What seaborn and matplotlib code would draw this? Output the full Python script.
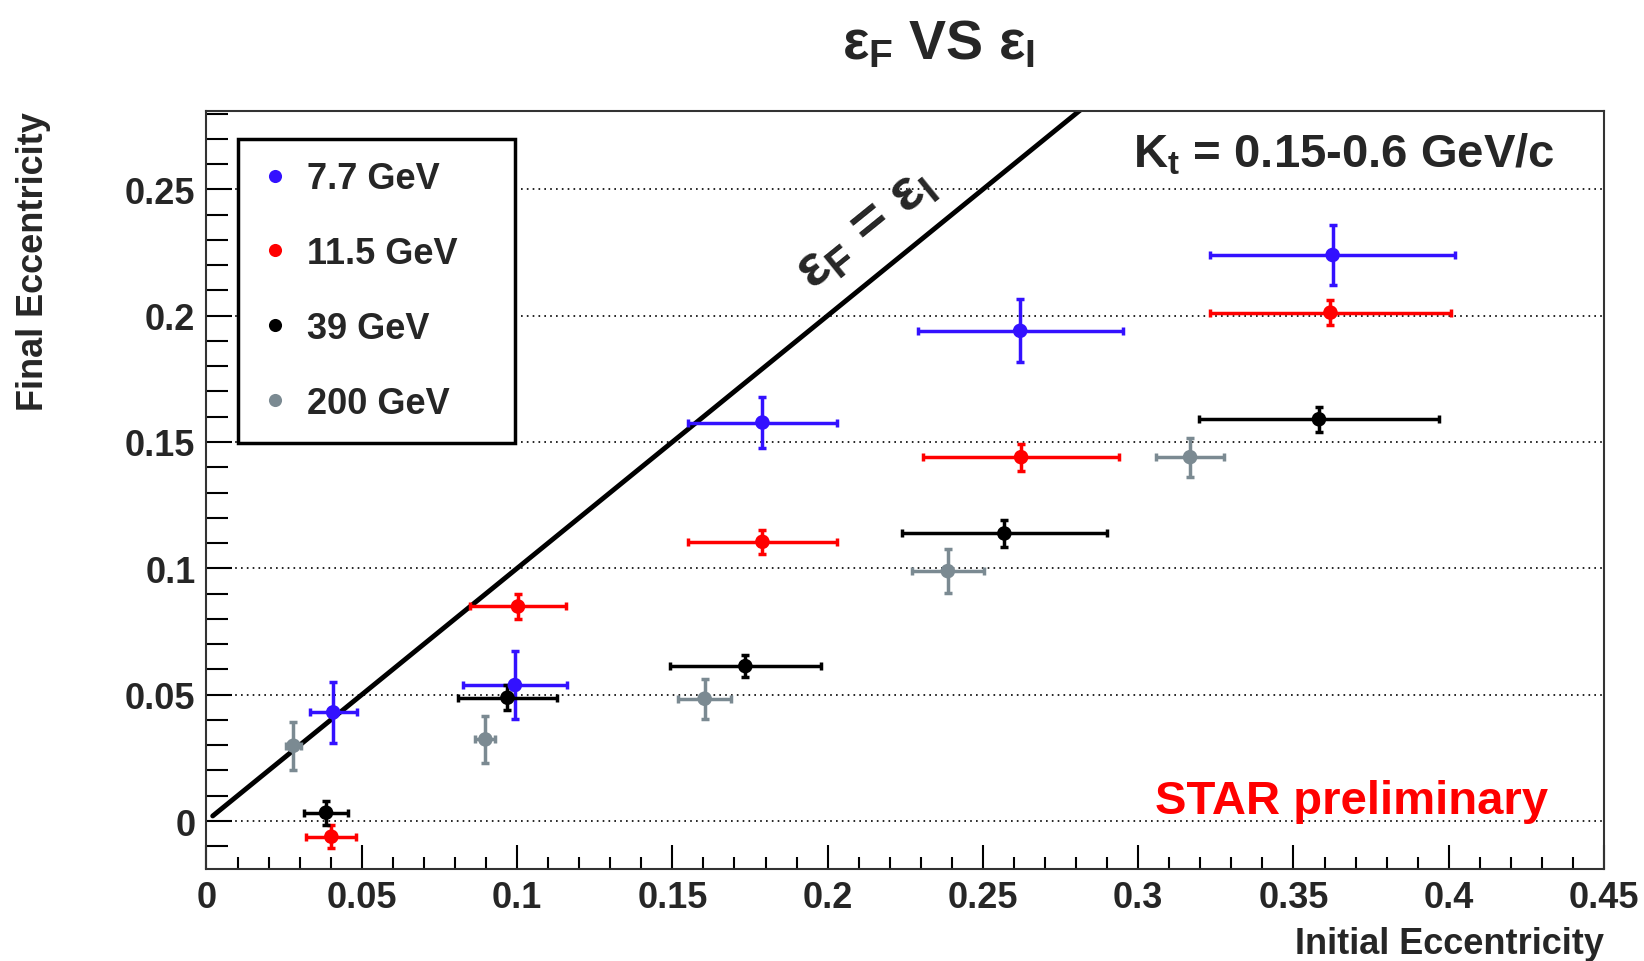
import matplotlib
matplotlib.use("Agg")
import matplotlib.pyplot as plt
import matplotlib.ticker as ticker
import numpy as np
import pandas as pd
import seaborn as sns

# values
energies = ["7.7 GeV", "11.5 GeV", "39 GeV", "200 GeV"]
colors = ["#3311ff", "#ff0000", "#000000", "#7b8a92"]

x_77 = [0.0408, 0.0993, 0.179, 0.262, 0.3626]
y_77 = [0.043, 0.0538, 0.1577, 0.194, 0.224]
xe_77 = [0.0076, 0.0167, 0.024, 0.033, 0.0395]
ye_77 = [0.012, 0.0135, 0.0102, 0.0125, 0.012]

x_115 = [0.0402, 0.1003, 0.179, 0.2623, 0.3619]
y_115 = [-0.0062, 0.0849, 0.1105, 0.144, 0.2012]
xe_115 = [0.008, 0.0154, 0.024, 0.0316, 0.0387]
ye_115 = [0.0045, 0.005, 0.0048, 0.0054, 0.005]

x_39 = [0.0385, 0.0969, 0.1735, 0.2569, 0.3582]
y_39 = [0.0033, 0.0488, 0.0613, 0.1138, 0.159]
xe_39 = [0.0071, 0.016, 0.0243, 0.033, 0.0387]
ye_39 = [0.0048, 0.005, 0.0045, 0.0055, 0.005]

x_200 = [0.028, 0.0898, 0.1604, 0.2387, 0.3167]
y_200 = [0.0298, 0.0323, 0.0484, 0.0989, 0.144]
xe_200 = [0.0025, 0.0032, 0.0086, 0.0115, 0.011]
ye_200 = [0.0095, 0.0093, 0.0079, 0.0087, 0.0077]

# eps_F = eps_I reference line ends
diag = [0.002, 0.2815]

sns.set_theme(style="white")
plt.rcParams["font.family"] = ["Liberation Sans", "DejaVu Sans"]
plt.rcParams["font.weight"] = "bold"
plt.rcParams["mathtext.fontset"] = "custom"
plt.rcParams["mathtext.rm"] = "Liberation Sans:bold"
plt.rcParams["mathtext.it"] = "Liberation Sans:bold"
plt.rcParams["mathtext.bf"] = "Liberation Sans:bold"

series = [
    (x_77, y_77, xe_77, ye_77),
    (x_115, y_115, xe_115, ye_115),
    (x_39, y_39, xe_39, ye_39),
    (x_200, y_200, xe_200, ye_200),
]
frames = []
for name, (xs, ys, xe, ye) in zip(energies, series):
    frames.append(pd.DataFrame({"x": xs, "y": ys, "xerr": xe, "yerr": ye, "energy": name}))
df = pd.concat(frames, ignore_index=True)
palette = dict(zip(energies, colors))

fig = plt.figure(figsize=(16.44, 9.62), dpi=100)
ax = fig.add_axes([0.1256, 0.0956, 0.8501, 0.788])

ax.plot(diag, diag, color="black", linewidth=3.5, zorder=2)

for name in energies:
    d = df[df.energy == name]
    ax.errorbar(
        d.x, d.y, xerr=d.xerr, yerr=d.yerr, fmt="none",
        ecolor=palette[name], elinewidth=2.5, capsize=3, capthick=2.5, zorder=3,
    )

sns.scatterplot(
    data=df, x="x", y="y", hue="energy", palette=palette, hue_order=energies,
    s=110, edgecolor="none", ax=ax, zorder=4,
)

ax.set_xlim(0, 0.45)
ax.set_ylim(-0.019, 0.281)
ax.xaxis.set_major_locator(ticker.MultipleLocator(0.05))
ax.xaxis.set_minor_locator(ticker.MultipleLocator(0.01))
ax.yaxis.set_major_locator(ticker.MultipleLocator(0.05))
ax.yaxis.set_minor_locator(ticker.MultipleLocator(0.01))
fmt = ticker.FuncFormatter(lambda v, p: "%g" % (round(v, 3) + 0.0))
ax.xaxis.set_major_formatter(fmt)
ax.yaxis.set_major_formatter(fmt)
ax.tick_params(which="both", direction="in", width=1.5, color="black",
               bottom=True, left=True, top=False, right=False)
ax.tick_params(which="major", labelsize=26, pad=8)
ax.tick_params(axis="x", which="major", length=17)
ax.tick_params(axis="x", which="minor", length=8.5)
ax.tick_params(axis="y", which="major", length=19)
ax.tick_params(axis="y", which="minor", length=15.5)

ax.yaxis.grid(True, linestyle=(0, (1, 2.5)), color="black", linewidth=1.2)
ax.xaxis.grid(False)
ax.set_axisbelow(True)
for sp in ax.spines.values():
    sp.set_color("#333333")
    sp.set_linewidth(1.5)

ax.set_xlabel("Initial Eccentricity", fontsize=26, fontweight="bold", loc="right")
ax.set_ylabel("Final Eccentricity", fontsize=26, fontweight="bold", loc="top")
ax.xaxis.set_label_coords(1.0, -0.075)
ax.yaxis.set_label_coords(-0.111, 1.0)

sns.move_legend(
    ax, "upper left", bbox_to_anchor=(0.0225, 0.5, 0.198, 0.463), mode="expand",
    title="", fontsize=26, frameon=True, fancybox=False, framealpha=1,
    edgecolor="black", labelspacing=1.1, borderpad=0.62,
    handlelength=0.8, handletextpad=0.5, borderaxespad=0, markerscale=0.9,
)
leg = ax.get_legend()
leg.get_frame().set_linewidth(2.5)
leg.set_zorder(5)

fig.text(0.5706, 0.953, r"$ε_F$ VS $ε_I$", fontsize=40, fontweight="bold",
         ha="center", va="center")
ax.text(0.965, 0.943, r"K$_t$ = 0.15-0.6 GeV/c", transform=ax.transAxes,
        fontsize=34, fontweight="bold", ha="right", va="center")
ax.text(0.2120, 0.2347, r"$ε_F$ = $ε_I$", fontsize=42, fontweight="bold",
        ha="center", va="center", rotation=39, rotation_mode="anchor")
ax.text(0.96, 0.0897, "STAR preliminary", transform=ax.transAxes, color="#ff0000",
        fontsize=34, fontweight="bold", ha="right", va="center")

fig.savefig("out.png", dpi=100)
